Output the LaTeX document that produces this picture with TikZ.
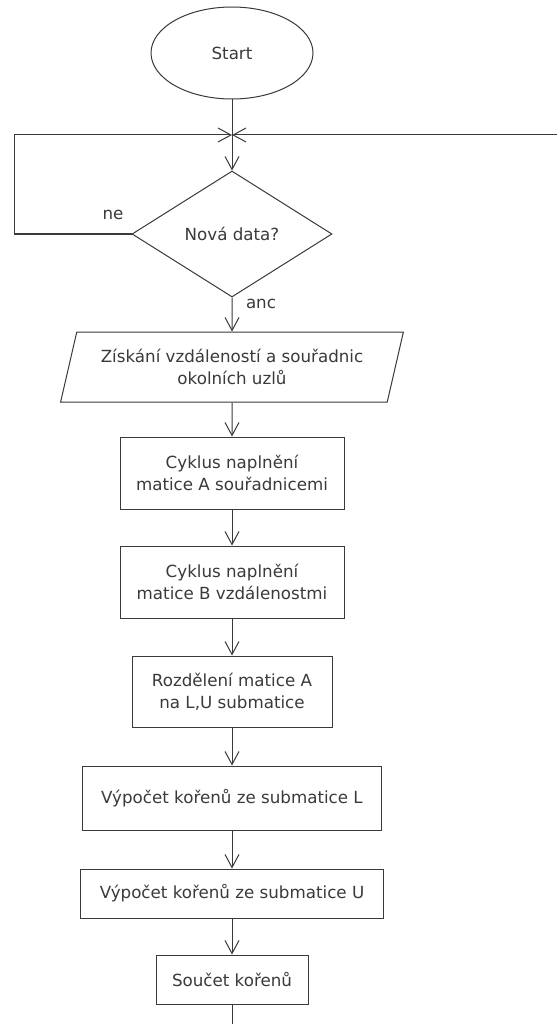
\documentclass[tikz,border=0pt]{standalone}
\usepackage{fontspec}
\setmainfont{DejaVu Sans}
\usetikzlibrary{shapes.geometric,arrows.meta}
\definecolor{linec}{HTML}{3A3A3A}
\definecolor{textc}{HTML}{3A3A3A}
\begin{document}
\begin{tikzpicture}[x=1pt,y=-1pt,
  every node/.style={text=textc,font=\fontsize{16.7}{22}\selectfont},
  shapeline/.style={draw=linec,line width=1pt,inner sep=0pt,align=center},
  procbox/.style={shapeline,rectangle},
  conn/.style={draw=linec,line width=1pt},
  arr/.style={conn,-{Straight Barb[length=13pt,width=14pt]}},
  lbl/.style={inner sep=0pt}]
  \fill[white] (0,0) rectangle (557,1024);
  \useasboundingbox (0,0) rectangle (557,1024);

  % shapes
  \node[shapeline,ellipse,minimum width=162pt,minimum height=92pt] (start) at (232,53) {Start};
  \coordinate (j) at (232,135);
  \coordinate (lc) at (14,135);
  \coordinate (rc) at (557,135);
  \node[shapeline,diamond,minimum width=200pt,minimum height=126pt] (dec) at (232,234) {Nová data?};
  \node[shapeline,trapezium,trapezium left angle=69,trapezium right angle=111,
        trapezium stretches=true,minimum width=343pt,minimum height=70pt] (in) at (232,367)
        {Získání vzdáleností a souřadnic\\okolních uzlů};
  \node[procbox,minimum width=224pt,minimum height=72pt] (ma) at (232,473) {Cyklus naplnění\\matice A souřadnicemi};
  \node[procbox,minimum width=224pt,minimum height=72pt] (mb) at (232,582) {Cyklus naplnění\\matice B vzdálenostmi};
  \node[procbox,minimum width=200pt,minimum height=71pt] (lu) at (232,691.5) {Rozdělení matice A\\na L,U submatice};
  \node[procbox,minimum width=299pt,minimum height=64pt] (kl) at (232,798) {Výpočet kořenů ze submatice L};
  \node[procbox,minimum width=303pt,minimum height=49pt] (ku) at (232,893.5) {Výpočet kořenů ze submatice U};
  \node[procbox,minimum width=152pt,minimum height=49pt] (sum) at (232,979.5) {Součet kořenů};
  \coordinate (bot) at (232,1024);

  % labels
  \node[lbl] (ne) at (113,215) {ne};
  \node[lbl] (ano) at (261,304) {anc};

  % connectors
  \draw[conn] (start.south) -- (j);
  \draw[arr] (j) -- (dec.north);
  \draw[arr] (dec.west) -| (lc) -- (j);
  \draw[arr] (rc) -- (j);
  \draw[arr] (dec.south) -- (in.north);
  \draw[arr] (in.south) -- (ma.north);
  \draw[arr] (ma.south) -- (mb.north);
  \draw[arr] (mb.south) -- (lu.north);
  \draw[arr] (lu.south) -- (kl.north);
  \draw[arr] (kl.south) -- (ku.north);
  \draw[arr] (ku.south) -- (sum.north);
  \draw[conn] (sum.south) -- (bot);
\end{tikzpicture}
\end{document}
